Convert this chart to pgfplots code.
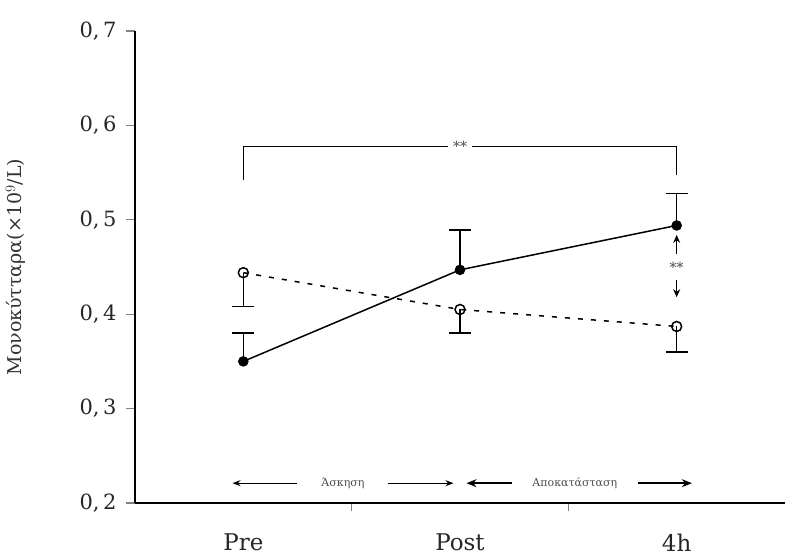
\documentclass[border=0pt]{standalone}
\usepackage{fontspec}
\setmainfont{DejaVu Serif}
\usepackage{pgfplots}
\pgfplotsset{compat=1.18}
\usetikzlibrary{arrows.meta}
\begin{document}
\begin{tikzpicture}[x=1pt,y=1pt]
\begin{axis}[
  at={(0,0)}, anchor=south west,
  scale only axis, width=650pt, height=472pt,
  xmin=-0.5, xmax=2.5, ymin=0.2, ymax=0.7,
  axis lines=left, axis line style={-, line width=1.3pt},
  xtick={0,1,2}, xticklabels={Pre,Post,4h},
  major x tick style={draw=none},
  minor xtick={0.5,1.5},
  minor tick length=8pt,
  minor x tick style={line width=1.2pt},
  ytick={0.2,0.3,0.4,0.5,0.6,0.7},
  yticklabels={{0,\,2},{0,\,3},{0,\,4},{0,\,5},{0,\,6},{0,\,7}},
  y tick style={line width=1.2pt},
  tick align=outside, major tick length=9pt,
  ticklabel style={font=\fontsize{21}{24}\selectfont, text=black!85},
  xticklabel style={font=\fontsize{23}{26}\selectfont, anchor=north, yshift=-18pt},
  yticklabel style={xshift=-6pt},
  ylabel={Μονοκύτταρα(×10$^{9}$/L)},
  ylabel style={font=\fontsize{19}{22}\selectfont, text=black!80, at={(axis description cs:0,0.5)}, anchor=south, yshift=106pt},
  clip=false,
]
% filled series, errors upward
\addplot[black, line width=1.5pt, mark=*, mark size=4.5pt,
  error bars/.cd, y dir=plus, y explicit,
  error bar style={line width=1.5pt},
  error mark options={rotate=90, mark size=11pt, line width=1.5pt}]
  coordinates {(0,0.350) +- (0,0.030) (1,0.447) +- (0,0.042) (2,0.494) +- (0,0.034)};
% open series, errors downward
\addplot[black, line width=1.5pt, dash pattern=on 5pt off 8pt, mark=o, mark size=5pt,
  mark options={solid, fill=white, line width=1.5pt},
  error bars/.cd, y dir=minus, y explicit,
  error bar style={line width=1.5pt, solid},
  error mark options={rotate=90, mark size=11pt, line width=1.5pt, solid}]
  coordinates {(0,0.444) +- (0,0.036) (1,0.405) +- (0,0.025) (2,0.387) +- (0,0.027)};
% bracket
\draw[line width=1.2pt] (axis cs:0,0.542) -- (axis cs:0,0.578) -- (axis cs:2,0.578) -- (axis cs:2,0.547);
\node[fill=white, inner sep=5pt, text=black!70, font=\fontsize{14}{16}\selectfont] at (axis cs:1,0.578) {**};
% double arrow at 4h
\draw[line width=1.3pt, -{Stealth[length=8pt,width=7pt]}] (axis cs:2,0.464) -- (axis cs:2,0.484);
\draw[line width=1.3pt, -{Stealth[length=8pt,width=7pt]}] (axis cs:2,0.436) -- (axis cs:2,0.418);
\node[text=black!70, font=\fontsize{14}{16}\selectfont] at (axis cs:2,0.450) {**};
% bottom arrows
\draw[line width=1.2pt, -{Stealth[length=8pt,width=6pt]}] (axis cs:0.25,0.221) -- (axis cs:-0.05,0.221);
\node[text=black!70, font=\fontsize{11}{13}\selectfont] at (axis cs:0.46,0.221) {Άσκηση};
\draw[line width=1.2pt, -{Stealth[length=8pt,width=6pt]}] (axis cs:0.67,0.221) -- (axis cs:0.97,0.221);
\draw[line width=1.4pt, -{Stealth[length=10pt,width=8pt]}] (axis cs:1.24,0.221) -- (axis cs:1.03,0.221);
\node[text=black!70, font=\fontsize{11}{13}\selectfont] at (axis cs:1.53,0.221) {Αποκατάσταση};
\draw[line width=1.4pt, -{Stealth[length=10pt,width=8pt]}] (axis cs:1.82,0.221) -- (axis cs:2.07,0.221);
\end{axis}
\pgfresetboundingbox
\path (-135,-55) rectangle (655,503);
\end{tikzpicture}
\end{document}
